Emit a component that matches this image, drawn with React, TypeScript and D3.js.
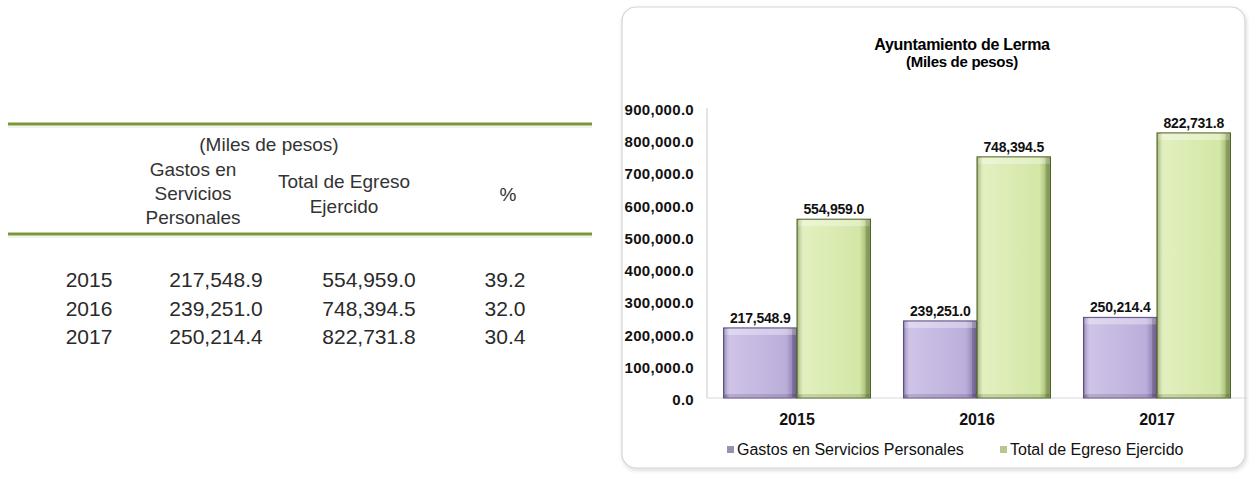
import React from 'react';
import * as d3 from 'd3';

const years = ['2015', '2016', '2017'];
const gastos = [217548.9, 239251.0, 250214.4];
const totalEgreso = [554959.0, 748394.5, 822731.8];
const porcentaje = [39.2, 32.0, 30.4];
const yTicks = [0, 100000, 200000, 300000, 400000, 500000, 600000, 700000, 800000, 900000];
const seriesKeys = ['g', 't'];
const seriesNames = ['Gastos en Servicios Personales', 'Total de Egreso Ejercido'];
const chartTitle = 'Ayuntamiento de Lerma';
const chartSubtitle = '(Miles de pesos)';
const tableHeadCol1 = ['Gastos en', 'Servicios', 'Personales'];
const tableHeadCol2 = ['Total de Egreso', 'Ejercido'];

const FONT = 'Arial, "Liberation Sans", Helvetica, sans-serif';

const palette: Record<string, { base: string; light: string; dark: string; edge: string; marker: string }> = {
  g: { base: '#bcaedb', light: '#cfc3e8', dark: '#7d6da2', edge: '#5d4f7e', marker: '#9a90b4' },
  t: { base: '#d3e7a6', light: '#e2f0c0', dark: '#8fa65a', edge: '#4f6128', marker: '#b6c78f' },
};

function Bar({ x, y, w, h, k }: { x: number; y: number; w: number; h: number; k: string }) {
  const p = palette[k];
  return (
    <g>
      <rect x={x} y={y} width={w} height={h} fill={`url(#grad-${k})`} stroke={p.edge} strokeWidth={1} />
      <rect x={x + 1} y={y + 1} width={w - 2} height={6} fill="#ffffff" opacity={0.35} />
      <rect x={x + 1} y={y + 7} width={4} height={h - 10} fill="#ffffff" opacity={0.2} />
      <rect x={x + w - 5} y={y + 1} width={4} height={h - 2} fill="#000000" opacity={0.15} />
      <rect x={x + 1} y={y + h - 4} width={w - 2} height={3} fill="#000000" opacity={0.12} />
    </g>
  );
}

export default function App() {
  const W = 1249;
  const H = 478;
  const y = d3.scaleLinear().domain([0, 900000]).range([398, 108]);
  const x0 = d3
    .scaleBand<string>()
    .domain(years)
    .range([707, 1247])
    .paddingInner(0.1833)
    .paddingOuter(0.0917);
  const x1 = d3.scaleBand<string>().domain(seriesKeys).range([0, x0.bandwidth()]);
  const fmt = d3.format(',.1f');
  const values: Record<string, number[]> = { g: gastos, t: totalEgreso };

  // table columns
  const colYear = 89;
  const colG = 216;
  const colT = 369;
  const colP = 505;
  const rowY = d3.scalePoint<string>().domain(years).range([287, 344]);

  return (
    <svg
      width={W}
      height={H}
      style={{ position: 'absolute', left: 0, top: 0, background: '#ffffff' }}
      fontFamily={FONT}
    >
      <defs>
        {seriesKeys.map((k) => (
          <linearGradient key={k} id={`grad-${k}`} x1="0" x2="1" y1="0" y2="0">
            <stop offset="0%" stopColor={palette[k].dark} />
            <stop offset="8%" stopColor={palette[k].light} />
            <stop offset="85%" stopColor={palette[k].base} />
            <stop offset="100%" stopColor={palette[k].dark} />
          </linearGradient>
        ))}
        <filter id="shadow" x="-5%" y="-5%" width="110%" height="110%">
          <feDropShadow dx="1" dy="2" stdDeviation="2" floodColor="#000" floodOpacity="0.15" />
        </filter>
      </defs>

      {/* ---------- Table ---------- */}
      <g>
        <line x1={8} x2={592} y1={124} y2={124} stroke="#7a963a" strokeWidth={3} />
        <line x1={8} x2={592} y1={127} y2={127} stroke="#e4e8d8" strokeWidth={1} />
        <text x={269} y={151} textAnchor="middle" fontSize={19} fill="#333">
          (Miles de pesos)
        </text>
        {tableHeadCol1.map((t, i) => (
          <text key={t} x={193} y={176 + i * 24} textAnchor="middle" fontSize={19} fill="#333">
            {t}
          </text>
        ))}
        {tableHeadCol2.map((t, i) => (
          <text key={t} x={344} y={188 + i * 25} textAnchor="middle" fontSize={19} fill="#333">
            {t}
          </text>
        ))}
        <text x={508} y={201} textAnchor="middle" fontSize={19} fill="#333">
          %
        </text>
        <line x1={8} x2={592} y1={234} y2={234} stroke="#7a963a" strokeWidth={3} />
        <line x1={8} x2={592} y1={237} y2={237} stroke="#e4e8d8" strokeWidth={1} />
        {years.map((yr, i) => (
          <g key={yr} fontSize={21} fill="#2a2a2a">
            <text x={colYear} y={rowY(yr)} textAnchor="middle">
              {yr}
            </text>
            <text x={colG} y={rowY(yr)} textAnchor="middle">
              {fmt(gastos[i])}
            </text>
            <text x={colT} y={rowY(yr)} textAnchor="middle">
              {fmt(totalEgreso[i])}
            </text>
            <text x={colP} y={rowY(yr)} textAnchor="middle">
              {porcentaje[i].toFixed(1)}
            </text>
          </g>
        ))}
      </g>

      {/* ---------- Chart panel ---------- */}
      <rect x={622} y={7} width={623} height={461} rx={14} ry={14} fill="#ffffff" stroke="#d4d4d4" strokeWidth={1.2} filter="url(#shadow)" />

      <text x={962} y={50} textAnchor="middle" fontSize={16} fontWeight="bold" letterSpacing={-0.3} fill="#000">
        {chartTitle}
      </text>
      <text x={962} y={67} textAnchor="middle" fontSize={15} fontWeight="bold" letterSpacing={-0.3} fill="#000">
        {chartSubtitle}
      </text>

      {/* axes */}
      <line x1={707} x2={707} y1={y(900000)} y2={y(0)} stroke="#c8c8c8" strokeWidth={1} />
      <line x1={707} x2={1247} y1={y(0)} y2={y(0)} stroke="#d8d8d8" strokeWidth={1} />
      {yTicks.map((t) => (
        <text
          key={t}
          x={694}
          y={y(t) + 7}
          textAnchor="end"
          fontSize={15}
          fontWeight="bold"
          letterSpacing={0.3}
          fill="#111"
        >
          {fmt(t)}
        </text>
      ))}

      {/* bars */}
      {years.map((yr, i) => (
        <g key={yr}>
          {seriesKeys.map((k) => {
            const v = values[k][i];
            const bx = (x0(yr) ?? 0) + (x1(k) ?? 0);
            const bw = x1.bandwidth();
            return (
              <g key={k}>
                <Bar x={bx} y={y(v)} w={bw} h={y(0) - y(v)} k={k} />
                <text
                  x={bx + bw / 2}
                  y={y(v) - 5}
                  textAnchor="middle"
                  fontSize={14}
                  fontWeight="bold"
                  letterSpacing={-0.2}
                  fill="#111"
                >
                  {fmt(v)}
                </text>
              </g>
            );
          })}
          <text
            x={(x0(yr) ?? 0) + x0.bandwidth() / 2}
            y={425}
            textAnchor="middle"
            fontSize={16}
            fontWeight="bold"
            fill="#111"
          >
            {yr}
          </text>
        </g>
      ))}

      {/* legend */}
      {seriesKeys.map((k, i) => {
        const lx = i === 0 ? 727 : 1000;
        return (
          <g key={k}>
            <rect x={lx} y={446} width={7} height={7} fill={palette[k].marker} />
            <text x={lx + 10} y={455} fontSize={16} fill="#111">
              {seriesNames[i]}
            </text>
          </g>
        );
      })}
    </svg>
  );
}
